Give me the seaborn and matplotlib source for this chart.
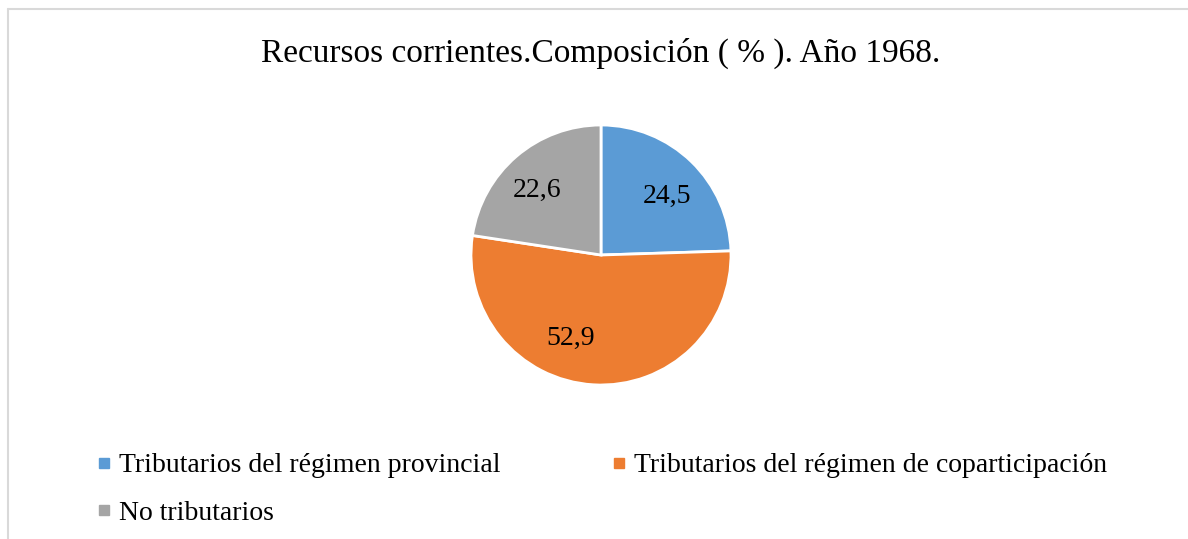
import matplotlib
matplotlib.use("Agg")
import matplotlib.pyplot as plt
from matplotlib.lines import Line2D
import seaborn as sns

categories = ["Tributarios del régimen provincial",
              "Tributarios del régimen de coparticipación",
              "No tributarios"]
values = [24.5, 52.9, 22.6]
labels = ["24,5", "52,9", "22,6"]
colors = ["#5B9BD5", "#ED7D31", "#A5A5A5"]
title = "Recursos corrientes.Composición ( % ). Año 1968."

# label placement inside the pie (fraction of radius), as in the original layout
label_pos = [(0.508, 0.454), (-0.231, -0.638), (-0.492, 0.5)]

sns.set_theme(style="white")
plt.rcParams["font.family"] = ["Liberation Serif", "DejaVu Serif"]
plt.rcParams["text.color"] = "black"

W, H = 1188, 539
fig = plt.figure(figsize=(W / 100, H / 100), dpi=100)
fig.patch.set_facecolor("white")

cx, cy, r = 601, 255, 130
ax = fig.add_axes([(cx - r) / W, (H - cy - r) / H, 2 * r / W, 2 * r / H])
wedges, texts = ax.pie(values, colors=colors, startangle=90, counterclock=False,
                       labels=labels, labeldistance=0.68,
                       wedgeprops=dict(edgecolor="white", linewidth=2),
                       textprops=dict(fontsize=20, color="black", ha="center", va="center"))
for t, p in zip(texts, label_pos):
    t.set_position(p)
ax.set_xlim(-1, 1)
ax.set_ylim(-1, 1)
ax.set_aspect("auto")
ax.axis("off")

fig.text(cx / W, 1 - 53 / H, title, ha="center", va="center", fontsize=24, color="black")

handles = [Line2D([], [], marker="s", linestyle="none", markersize=6.5,
                  markerfacecolor=c, markeredgecolor=c) for c in colors]
order = [0, 2, 1]
fig.legend([handles[i] for i in order], [categories[i] for i in order],
           loc="upper left", bbox_to_anchor=(97 / W, 1 - 453 / H), ncol=2,
           frameon=False, fontsize=20, handlelength=0.5, handletextpad=0.3,
           columnspacing=4.0, labelspacing=0.78, borderaxespad=0, borderpad=0,
           labelcolor="black")

border = "#D9D9D9"
fig.add_artist(Line2D([8 / W, 8 / W], [0, 1 - 9 / H], color=border, linewidth=1.5,
                      transform=fig.transFigure))
fig.add_artist(Line2D([8 / W, 1], [1 - 9 / H, 1 - 9 / H], color=border, linewidth=1.5,
                      transform=fig.transFigure))

fig.savefig("out.png", dpi=100, facecolor="white")
